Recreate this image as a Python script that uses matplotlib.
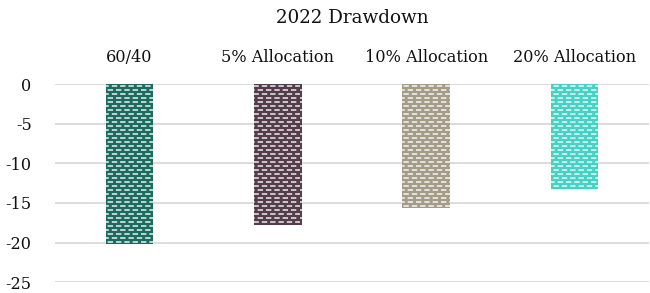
import numpy as np
import matplotlib
matplotlib.use("Agg")
import matplotlib.pyplot as plt
import matplotlib.hatch as mhatch
from matplotlib.path import Path

# Data
categories = ["60/40", "5% Allocation", "10% Allocation", "20% Allocation"]
drawdown = [-20.2, -17.8, -15.6, -13.3]
colors = ["#1d6b60", "#533d4a", "#a39c89", "#45d2c3"]
yticks = [0, -5, -10, -15, -20, -25]


# brick-like dash pattern (offset white dashes), replaces the built-in hatches
class BrickHatch(mhatch.HatchPatternBase):
    rows = 25
    cols = 12
    dash = 0.04

    def __init__(self, hatch, density):
        self.num_vertices = self.rows * self.cols * 2 if hatch else 0

    def set_vertices_and_codes(self, vertices, codes):
        k = 0
        for r in range(self.rows):
            y = (r + 0.5) / self.rows
            off = 0.5 / self.cols if r % 2 else 0.0
            for c in range(self.cols):
                x0 = c / self.cols + off
                vertices[k] = (x0, y)
                vertices[k + 1] = (x0 + self.dash, y)
                codes[k] = Path.MOVETO
                codes[k + 1] = Path.LINETO
                k += 2


mhatch._hatch_types = [BrickHatch]

plt.rcParams["font.family"] = ["DejaVu Serif"]
plt.rcParams["hatch.linewidth"] = 1.0

fig, ax = plt.subplots(figsize=(6.5, 2.93), dpi=100)
fig.subplots_adjust(left=0.085, right=0.998, top=0.713, bottom=0.037)

x = np.arange(len(categories))
ax.bar(x, drawdown, width=0.32, color=colors, edgecolor="white",
       linewidth=0, hatch="-", zorder=3)

ax.set_ylim(-25, 0)
ax.set_yticks(yticks)
ax.set_yticklabels([str(v) for v in yticks])
ax.set_xlim(-0.5, len(categories) - 0.5)
ax.xaxis.tick_top()
ax.set_xticks(x)
ax.set_xticklabels(categories)
ax.tick_params(axis="both", length=0, labelsize=11.6, colors="#111111")
ax.tick_params(axis="x", pad=13)
ax.tick_params(axis="y", pad=17)
ax.grid(axis="y", color="#d9d9d9", linewidth=1.3, zorder=0)
for s in ax.spines.values():
    s.set_visible(False)

ax.set_title("2022 Drawdown", fontsize=13.2, color="#111111", pad=44)

fig.savefig("out.png", dpi=100)
